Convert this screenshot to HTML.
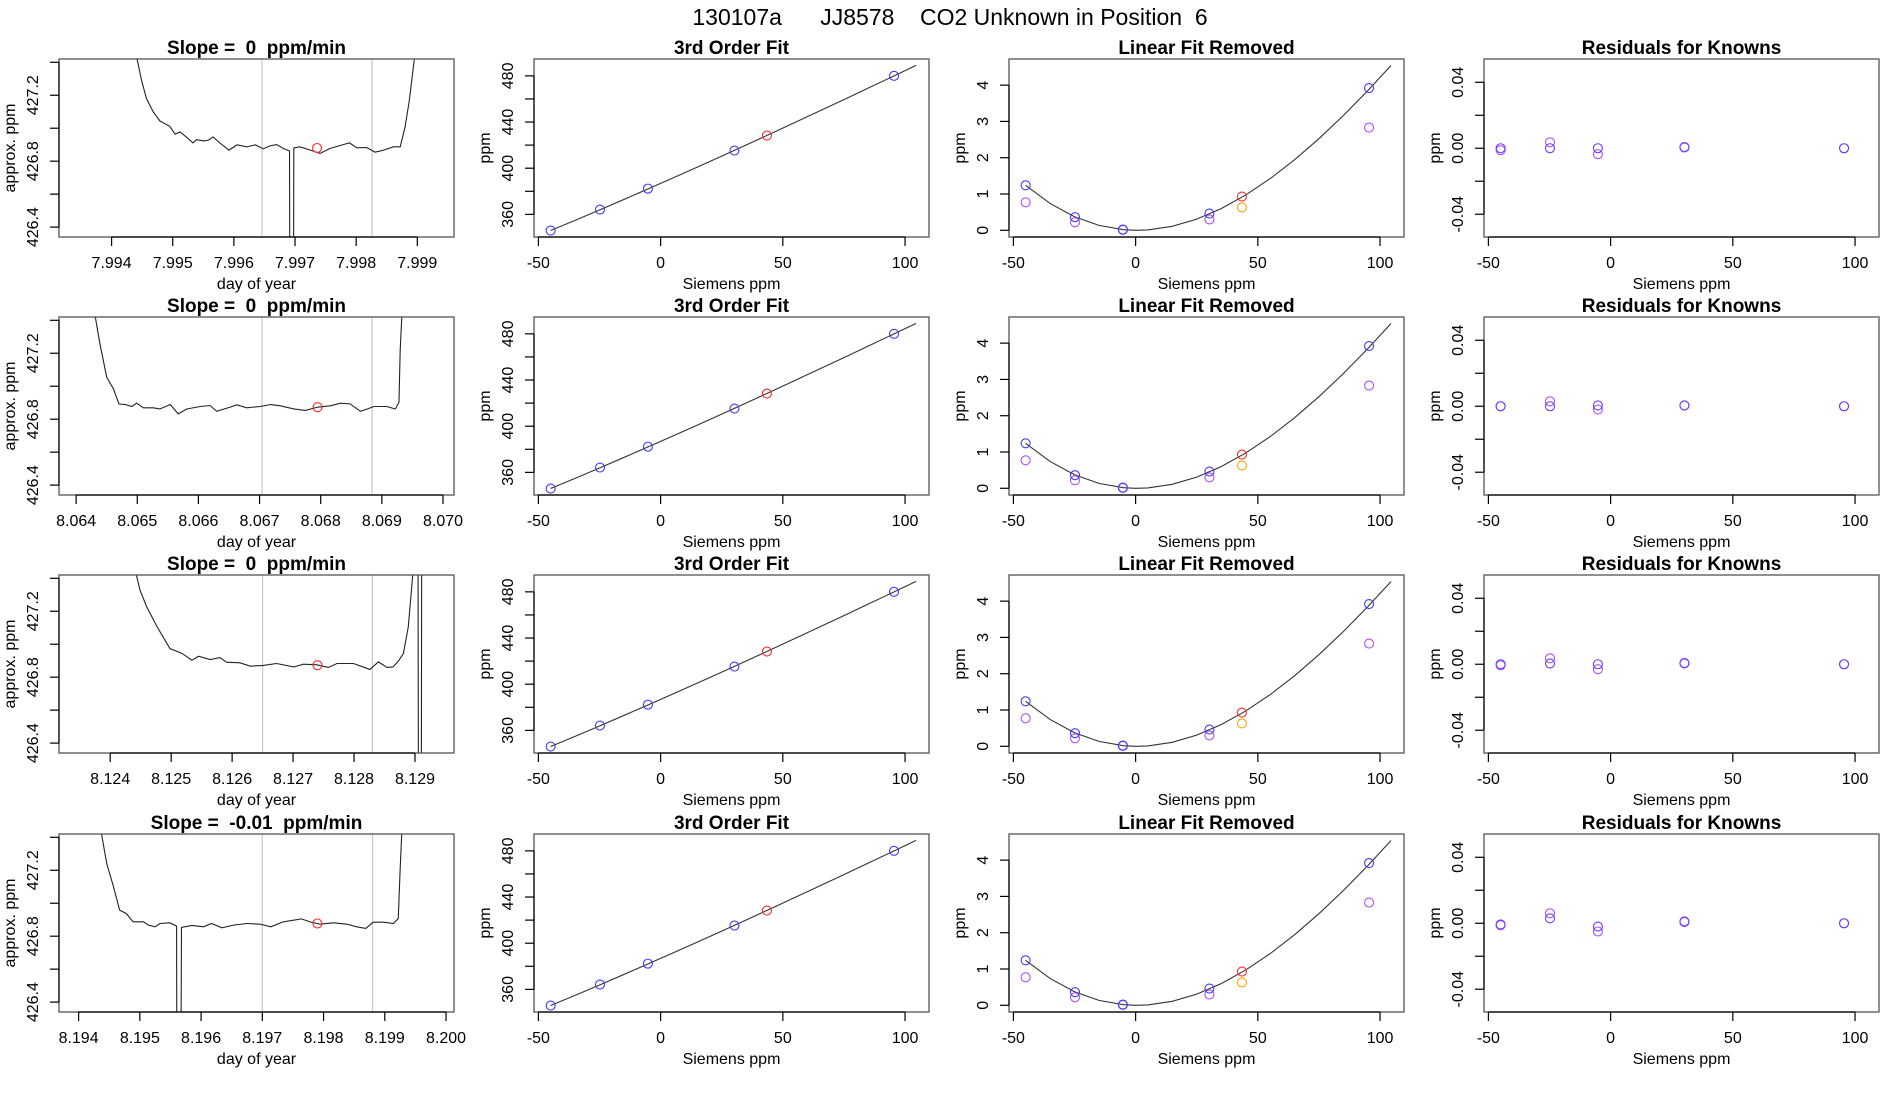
<!DOCTYPE html>
<html><head><meta charset="utf-8"><style>
html,body{margin:0;padding:0;background:#fff;width:1900px;height:1100px;overflow:hidden;}
svg{display:block;font-family:"Liberation Sans",Arial,sans-serif;overflow:hidden;}
text{white-space:pre;}
</style></head><body>
<svg id="fig" width="1900" height="1100" viewBox="0 0 1900 1100">
<text x="950" y="25" text-anchor="middle" font-size="23" style="white-space:pre">130107a      JJ8578    CO2 Unknown in Position  6</text>
</svg>
<script>
// ---- Column 1: time traces (day of year, approx ppm) ----
const trace1Day=[7.99440,7.99449,7.99457,7.99468,7.99479,7.99495,7.99504,7.99512,7.99523,7.99533,7.99539,7.99550,7.99558,7.99566,7.99577,7.99592,7.99605,7.99621,7.99635,7.99648,7.99659,7.99670,7.99681,7.99691,7.99692,7.99697,7.99698,7.99708,7.99725,7.99741,7.99757,7.99774,7.99789,7.99801,7.99817,7.99831,7.99845,7.99861,7.99872,7.99880,7.99887,7.99895,7.99897];
const trace1Ppm=[427.45,427.29,427.18,427.10,427.044,427.012,426.964,426.978,426.944,426.911,426.931,426.923,426.927,426.947,426.911,426.867,426.899,426.887,426.899,426.875,426.893,426.901,426.877,426.862,425.0,425.0,426.88,426.887,426.867,426.847,426.877,426.895,426.911,426.881,426.883,426.855,426.867,426.887,426.887,427.008,427.17,427.416,427.45];
const trace2Day=[8.06430,8.06439,8.06450,8.06461,8.06470,8.06480,8.06491,8.06499,8.06510,8.06526,8.06537,8.06554,8.06567,8.06581,8.06603,8.06619,8.06630,8.06652,8.06663,8.06679,8.06701,8.06718,8.06734,8.06756,8.06775,8.06795,8.06816,8.06832,8.06848,8.06865,8.06876,8.06887,8.06908,8.06922,8.06928,8.06930,8.06933];
const trace2Ppm=[427.45,427.256,427.055,426.984,426.893,426.889,426.877,426.897,426.869,426.869,426.862,426.889,426.832,426.862,426.877,426.883,426.848,426.873,426.887,426.869,426.877,426.889,426.881,426.862,426.853,426.873,426.881,426.897,426.893,426.848,426.862,426.877,426.877,426.862,426.903,427.218,427.45];
const trace3Day=[8.12441,8.12449,8.12460,8.12477,8.12498,8.12518,8.12534,8.12545,8.12564,8.12580,8.12591,8.12613,8.12630,8.12651,8.12673,8.12701,8.12717,8.12739,8.12758,8.12772,8.12799,8.12826,8.12840,8.12854,8.12864,8.12873,8.12881,8.12889,8.12897,8.12905,8.12906,8.12910,8.12911,8.12930];
const trace3Ppm=[427.45,427.327,427.226,427.105,426.974,426.944,426.903,426.927,426.907,426.919,426.891,426.887,426.867,426.871,426.883,426.862,426.879,426.875,426.859,426.883,426.883,426.847,426.893,426.859,426.862,426.899,426.944,427.105,427.45,427.6,425.0,425.0,427.6,427.6];
const trace4Day=[8.19436,8.19446,8.19457,8.19467,8.19478,8.19489,8.19506,8.19514,8.19525,8.19533,8.19549,8.19560,8.19561,8.19566,8.19568,8.19585,8.19604,8.19617,8.19634,8.19653,8.19675,8.19696,8.19714,8.19734,8.19751,8.19764,8.19778,8.19794,8.19816,8.19838,8.19854,8.19869,8.19881,8.19898,8.19914,8.19922,8.19925,8.19928];
const trace4Ppm=[427.45,427.24,427.10,426.958,426.937,426.887,426.887,426.867,426.857,426.877,426.881,426.861,425.0,425.0,426.853,426.865,426.857,426.877,426.851,426.867,426.877,426.873,426.857,426.887,426.897,426.905,426.887,426.873,426.881,426.873,426.857,426.847,426.885,426.885,426.877,426.907,427.20,427.45];
const dayLimits=[[7.99314,7.99960],[8.06372,8.07018],[8.12316,8.12964],[8.19368,8.20013]];
const dayTicks=[[7.994,7.995,7.996,7.997,7.998,7.999],[8.064,8.065,8.066,8.067,8.068,8.069,8.070],[8.124,8.125,8.126,8.127,8.128,8.129],[8.194,8.195,8.196,8.197,8.198,8.199,8.200]];
const windowLines=[[7.99646,7.99826],[8.06704,8.06884],[8.12650,8.12830],[8.19700,8.19880]];
const unknownDay=[7.99736,8.06795,8.12740,8.19790];
const unknownPpm=[426.88,426.873,426.873,426.877];
const slopeLabels=["0","0","0","-0.01"];
const ppmTicks=[426.4,426.6,426.8,427.0,427.2,427.4];
const ppmTickLabels=["426.4","","426.8","","427.2",""];
// ---- Columns 2-4: calibration ----
const knownX=[-45,-24.8,-5.2,30.2,95.5];
const knownPpm=[346,364.2,382.3,415.3,480];
const unknownX=[43.5];
const unknownFitPpm=[428.3];
const fitCurveX=[-45,-35,-25,-15,-5,0,5,15,25,35,45,55,65,75,85,95,104.5];
const fitCurveResid=[1.24,0.74,0.374,0.135,0.017,0,0.011,0.110,0.308,0.597,0.971,1.421,1.941,2.524,3.162,3.849,4.54];
const linIntercept=[386.82];
const linSlope=[0.9347];
const knownResidBlue=[1.24,0.36,0.02,0.46,3.92];
const knownResidPurple=[0.77,0.22,0.01,0.30,2.83];
const unknownResidRed=[0.93];
const unknownResidOrange=[0.63];
const resBlueByRow=[[0,0,0,0.0005,0],[0,0,0.0005,0.0005,0],[0,0.0005,0,0.0005,0],[-0.0007,0.003,-0.002,0.0008,0]];
const resPurpleByRow=[[-0.0012,0.0036,-0.0036,0.0008,0],[0,0.003,-0.002,0.0005,0],[-0.0006,0.0036,-0.0030,0.0008,0],[-0.0012,0.006,-0.0050,0.0012,0]];
const calXTicks=[-50,0,50,100];
const fitYTicks=[360,380,400,420,440,460,480];
const fitYLabels=["360","","400","","440","","480"];
const linYTicks=[0,1,2,3,4];
const resYTicks=[-0.04,-0.02,0,0.02,0.04];
const resYLabels=["-0.04","","0.00","","0.04"];

const NS="http://www.w3.org/2000/svg";
const svg=document.getElementById('fig');
const PW=395,PH=178,colLeft=[59,534,1009,1484],rowTop=[59,317,575,834];
const BLUE="#3b3bff",PURPLE="#b04cff",RES="#6a3cff";
function mk(tag,attrs,parent){const e=document.createElementNS(NS,tag);for(const k in attrs)e.setAttribute(k,attrs[k]);(parent||svg).appendChild(e);return e;}
function scale(d0,d1,r0,r1){return v=>r0+(v-d0)/(d1-d0)*(r1-r0);}
let clipN=0;
function panel(r,c,xl,yl,xt,xlab,yt,ylab,title,xtitle,ytitle){
  const L=colLeft[c],T=rowTop[r];
  const g=mk('g',{});
  
  
  const sx=scale(xl[0],xl[1],L,L+PW), sy=scale(yl[0],yl[1],T+PH,T);
  const id='clip'+(clipN++);
  const cp=mk('clipPath',{id:id},g);mk('rect',{x:L,y:T,width:PW,height:PH},cp);
  const plot=mk('g',{'clip-path':'url(#'+id+')'},g);
  const box=mk('rect',{x:L,y:T,width:PW,height:PH,fill:'none',stroke:'#555','stroke-width':1.3},g);
  
  
  const xa=mk('g',{},g);
  
  
  mk('line',{x1:sx(xt[0]),x2:sx(xt[xt.length-1]),y1:T+PH,y2:T+PH,stroke:'#000','stroke-width':1.2},xa);
  xt.forEach((v,i)=>{mk('line',{x1:sx(v),x2:sx(v),y1:T+PH,y2:T+PH+9,stroke:'#000','stroke-width':1.2},xa);
    if(xlab[i]!==""){const t=mk('text',{x:sx(v),y:T+PH+31,'text-anchor':'middle','font-size':16},xa);t.textContent=xlab[i];}});
  const ya=mk('g',{},g);
  
  
  mk('line',{x1:L,x2:L,y1:sy(yt[0]),y2:sy(yt[yt.length-1]),stroke:'#000','stroke-width':1.2},ya);
  yt.forEach((v,i)=>{mk('line',{x1:L-9,x2:L,y1:sy(v),y2:sy(v),stroke:'#000','stroke-width':1.2},ya);
    if(ylab[i]!==""){const t=mk('text',{x:L-21,y:sy(v),'text-anchor':'middle','font-size':16,transform:'rotate(-90 '+(L-21)+' '+sy(v)+')'},ya);t.textContent=ylab[i];}});
  const tt=mk('text',{x:L+PW/2,y:T-5,'text-anchor':'middle','font-size':19,'font-weight':'bold'},g);tt.textContent=title;
  
  
  const xtt=mk('text',{x:L+PW/2,y:T+PH+52,'text-anchor':'middle','font-size':16},g);xtt.textContent=xtitle;
  
  
  const yx=L-44,yy=T+PH/2;
  const ytt=mk('text',{x:yx,y:yy,'text-anchor':'middle','font-size':16,transform:'rotate(-90 '+yx+' '+yy+')'},g);ytt.textContent=ytitle;
  
  
  return {plot,sx,sy,T,L};
}
function circ(p,x,y,col,name){const e=mk('circle',{cx:p.sx(x),cy:p.sy(y),r:4.5,fill:'none',stroke:col,'stroke-width':1.1},p.plot);
  
  }
function poly(p,xs,ys,col,w,name){const pts=xs.map((x,i)=>p.sx(x).toFixed(2)+','+p.sy(ys[i]).toFixed(2)).join(' ');
  const e=mk('polyline',{points:pts,fill:'none',stroke:col,'stroke-width':w},p.plot);
  
  }

const traceDays=[trace1Day,trace2Day,trace3Day,trace4Day];
const tracePpms=[trace1Ppm,trace2Ppm,trace3Ppm,trace4Ppm];
const calLabels=calXTicks.map(String);
for(let r=0;r<4;r++){
  const dl=dayTicks[r].map(v=>v.toFixed(3));
  let p=panel(r,0,dayLimits[r],[426.34,427.42],dayTicks[r],dl,ppmTicks,ppmTickLabels,'Slope =  '+slopeLabels[r]+'  ppm/min','day of year','approx. ppm');
  windowLines[r].forEach(d=>{const e=mk('line',{x1:p.sx(d),x2:p.sx(d),y1:p.T,y2:p.T+PH,stroke:'#c8c8c8','stroke-width':1.2},p.plot);
    
    });
  poly(p,traceDays[r],tracePpms[r],'#222',1.1,'ppm-trace');
  circ(p,unknownDay[r],unknownPpm[r],'#ff2a2a','unknown-mean-point');
  p=panel(r,1,[-51.8,109.8],[340.4,494.6],calXTicks,calLabels,fitYTicks,fitYLabels,'3rd Order Fit','Siemens ppm','ppm');
  poly(p,fitCurveX,fitCurveX.map((x,i)=>linIntercept[0]+linSlope[0]*x+fitCurveResid[i]),'#333',1.1,'cubic-fit-line');
  knownX.forEach((x,i)=>circ(p,x,knownPpm[i],BLUE,'known-standard-point'));
  circ(p,unknownX[0],unknownFitPpm[0],'#ff2a2a','unknown-point');
  p=panel(r,2,[-51.8,109.8],[-0.185,4.72],calXTicks,calLabels,linYTicks,linYTicks.map(String),'Linear Fit Removed','Siemens ppm','ppm');
  poly(p,fitCurveX,fitCurveResid,'#333',1.1,'residual-curve');
  knownX.forEach((x,i)=>circ(p,x,knownResidPurple[i],PURPLE,'known-purple-point'));
  knownX.forEach((x,i)=>circ(p,x,knownResidBlue[i],BLUE,'known-blue-point'));
  circ(p,unknownX[0],unknownResidOrange[0],'#ffa500','unknown-orange-point');
  circ(p,unknownX[0],unknownResidRed[0],'#ff2a2a','unknown-red-point');
  p=panel(r,3,[-51.8,109.8],[-0.0538,0.0541],calXTicks,calLabels,resYTicks,resYLabels,'Residuals for Knowns','Siemens ppm','ppm');
  knownX.forEach((x,i)=>circ(p,x,resPurpleByRow[r][i],PURPLE,'residual-purple-point'));
  knownX.forEach((x,i)=>circ(p,x,resBlueByRow[r][i],RES,'residual-blue-point'));
}
</script>
</body></html>
